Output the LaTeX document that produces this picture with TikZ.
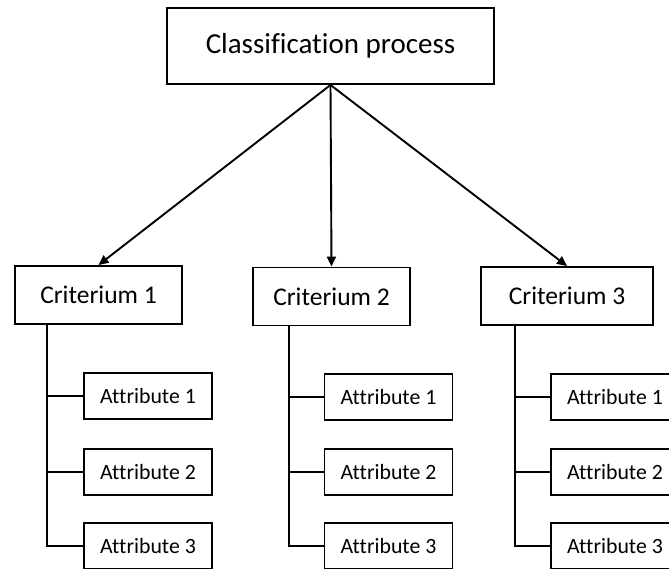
\documentclass[tikz,border=0pt]{standalone}
\usepackage{fontspec}
\setmainfont{Carlito}[Ligatures=NoCommon]
\usetikzlibrary{arrows.meta}
\tikzset{
  box/.style={draw=black, line width=1.9pt, inner sep=0pt, fill=white},
  topbox/.style={box, minimum width=327pt, minimum height=76pt, font=\fontsize{29}{35}\selectfont},
  critbox/.style={box, minimum height=58pt, font=\fontsize{25.5}{30}\selectfont},
  attrbox/.style={box, minimum width=128pt, minimum height=46pt, font=\fontsize{21.8}{26}\selectfont},
  arr/.style={line width=1.9pt, -{Triangle[length=10pt,width=9pt]}},
  conn/.style={line width=1.9pt},
}
\begin{document}
\begin{tikzpicture}[x=1pt,y=-1pt]
\useasboundingbox (0,0) rectangle (669,569);
\clip (0,0) rectangle (669,569);
\node[topbox] (top) at (330.5,46) {Classification process};
\node[critbox, minimum width=167pt] (c1) at (98.5,295) {Criterium 1};
\node[critbox, minimum width=157pt] (c2) at (331.5,296.5) {Criterium 2};
\node[critbox, minimum width=172pt] (c3) at (567,296) {Criterium 3};
% attribute boxes
\node[attrbox] (a11) at (148,396) {Attribute 1};
\node[attrbox] (a12) at (148,472) {Attribute 2};
\node[attrbox] (a13) at (148,546) {Attribute 3};
\node[attrbox] (a21) at (388.5,397) {Attribute 1};
\node[attrbox] (a22) at (388.5,472) {Attribute 2};
\node[attrbox] (a23) at (388.5,546) {Attribute 3};
\node[attrbox] (a31) at (615,397) {Attribute 1};
\node[attrbox] (a32) at (615,472) {Attribute 2};
\node[attrbox] (a33) at (615,546) {Attribute 3};
% spine coordinates
\coordinate (v1) at (47,0);
\coordinate (v2) at (289,0);
\coordinate (v3) at (515,0);
% arrows
\draw[arr] (top.south) -- (c1.north);
\draw[arr] (top.south) -- (c2.north);
\draw[arr] (top.south) -- (c3.north);
% trees
\draw[conn] (c1.south -| v1) |- (a13.west);
\draw[conn] (a11.west -| v1) -- (a11.west);
\draw[conn] (a12.west -| v1) -- (a12.west);
\draw[conn] (c2.south -| v2) |- (a23.west);
\draw[conn] (a21.west -| v2) -- (a21.west);
\draw[conn] (a22.west -| v2) -- (a22.west);
\draw[conn] (c3.south -| v3) |- (a33.west);
\draw[conn] (a31.west -| v3) -- (a31.west);
\draw[conn] (a32.west -| v3) -- (a32.west);
\end{tikzpicture}
\end{document}
